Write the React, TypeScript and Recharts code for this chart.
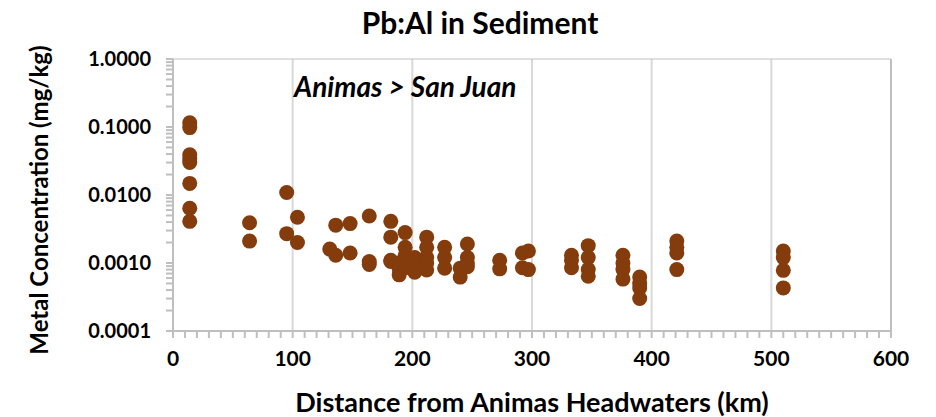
import React from "react";
import {
  ScatterChart,
  Scatter,
  XAxis,
  YAxis,
  ReferenceLine,
} from "recharts";

// sample distances (km) and matching Pb:Al ratios
const distanceKm = [
  14, 14, 14, 14, 14, 14, 14, 14,
  64, 64,
  95, 95,
  104, 104,
  131,
  136, 136,
  148, 148,
  164, 164, 164,
  182, 182, 182, 182,
  189, 189, 189,
  194, 194, 194, 194,
  202, 202, 202,
  212, 212, 212, 212, 212,
  227, 227, 227,
  240, 240,
  246, 246, 246, 246,
  273, 273,
  292, 292,
  297, 297,
  333, 333, 333,
  347, 347, 347, 347,
  376, 376, 376, 376,
  390, 390, 390, 390,
  421, 421, 421, 421,
  510, 510, 510, 510,
];

const pbAlRatio = [
  0.115, 0.098, 0.039, 0.034, 0.030, 0.0148, 0.0064, 0.0041,
  0.0039, 0.0021,
  0.0109, 0.0027,
  0.0047, 0.002,
  0.0016,
  0.0036, 0.0013,
  0.0038, 0.0014,
  0.0049, 0.00095, 0.00105,
  0.0041, 0.0024, 0.0011, 0.00105,
  0.00067, 0.00082, 0.001,
  0.0028, 0.0017, 0.0013, 0.00085,
  0.0012, 0.00073, 0.00095,
  0.0024, 0.0017, 0.0012, 0.001, 0.00079,
  0.0017, 0.0012, 0.00084,
  0.00062, 0.00084,
  0.0019, 0.0012, 0.001, 0.00088,
  0.0011, 0.00082,
  0.0014, 0.00085,
  0.0015, 0.0008,
  0.0013, 0.00085, 0.0011,
  0.0018, 0.0012, 0.0008, 0.00064,
  0.0013, 0.001, 0.00058, 0.0008,
  0.00062, 0.00043, 0.0003, 0.0005,
  0.0021, 0.0017, 0.0014, 0.0008,
  0.0015, 0.0012, 0.00078, 0.00043,
];

const xMajorTicks = [0, 100, 200, 300, 400, 500, 600];
const yMajorTicks = [0.0001, 0.001, 0.01, 0.1, 1];
const gridX = [100, 200, 300, 400, 500];

const data = distanceKm.map((d, i) => ({ km: d, ratio: pbAlRatio[i] }));

// minor ticks: every 10 km on x, 1..9 per decade on y
const xTicks: number[] = [];
for (let v = 0; v <= 600; v += 10) xTicks.push(v);
const yTicks: number[] = [];
yMajorTicks.slice(0, -1).forEach((d) => {
  for (let m = 1; m < 10; m++) yTicks.push(+(d * m).toPrecision(3));
});
yTicks.push(1);

const FONT = "Lato, 'Open Sans', sans-serif";
const BROWN = "#843C0C";
const AXIS = "#bfbfbf";

const XTick = (props: any) => {
  const { x, y, payload } = props;
  const major = xMajorTicks.includes(payload.value);
  return (
    <g>
      <line x1={x} x2={x} y1={y} y2={y + 7} stroke={AXIS} strokeWidth={2} />
      {major && (
        <text
          x={x}
          y={y + 35}
          textAnchor="middle"
          fontFamily={FONT}
          fontWeight={700}
          fontSize={21}
          fill="#000"
        >
          {payload.value}
        </text>
      )}
    </g>
  );
};

const YTick = (props: any) => {
  const { x, y, payload } = props;
  const major = yMajorTicks.some((t) => Math.abs(t - payload.value) < 1e-9);
  return (
    <g>
      <line x1={x - 7} x2={x} y1={y} y2={y} stroke={AXIS} strokeWidth={2} />
      {major && (
        <text
          x={x - 22}
          y={y + 7}
          textAnchor="end"
          fontFamily={FONT}
          fontWeight={700}
          fontSize={20}
          fill="#000"
        >
          {payload.value.toFixed(4)}
        </text>
      )}
    </g>
  );
};

const Dot = (props: any) => (
  <circle cx={props.cx} cy={props.cy} r={7.5} fill={BROWN} />
);

export default function App() {
  return (
    <div
      style={{
        position: "absolute",
        left: 0,
        top: 0,
        width: 936,
        height: 417,
        background: "#fff",
        fontFamily: FONT,
      }}
    >
      <ScatterChart
        width={936}
        height={417}
        margin={{ top: 59, right: 45, bottom: 46, left: 103 }}
      >
        {gridX.map((v) => (
          <ReferenceLine key={v} x={v} stroke="#d9d9d9" strokeWidth={2} />
        ))}
        <ReferenceLine y={1} stroke={AXIS} strokeWidth={1} />
        <ReferenceLine x={600} stroke={AXIS} strokeWidth={2} />
        <XAxis
          type="number"
          dataKey="km"
          domain={[0, 600]}
          ticks={xTicks}
          interval={0}
          height={40}
          tickSize={0}
          tickMargin={0}
          tickLine={false}
          axisLine={{ stroke: AXIS, strokeWidth: 2 }}
          tick={<XTick />}
        />
        <YAxis
          type="number"
          dataKey="ratio"
          scale="log"
          domain={[0.0001, 1]}
          allowDataOverflow
          ticks={yTicks}
          interval={0}
          width={70}
          tickSize={0}
          tickMargin={0}
          tickLine={false}
          axisLine={{ stroke: AXIS, strokeWidth: 2 }}
          tick={<YTick />}
        />
        <Scatter data={data} shape={<Dot />} isAnimationActive={false} />
      </ScatterChart>

      <div
        style={{
          position: "absolute",
          left: 0,
          width: 936,
          top: 4,
          textAlign: "center",
          fontSize: 30,
          fontWeight: 700,
          color: "#000",
          paddingLeft: 24,
          boxSizing: "border-box",
        }}
      >
        Pb:Al in Sediment
      </div>
      <div
        style={{
          position: "absolute",
          left: 294,
          top: 69,
          fontSize: 28,
          fontWeight: 700,
          fontStyle: "italic",
          color: "#000",
        }}
      >
        Animas &gt; San Juan
      </div>
      <div
        style={{
          position: "absolute",
          left: 173,
          width: 718,
          top: 385,
          textAlign: "center",
          fontSize: 27,
          fontWeight: 700,
          color: "#000",
        }}
      >
        Distance from Animas Headwaters (km)
      </div>
      <div
        style={{
          position: "absolute",
          left: 38,
          top: 200,
          transform: "translate(-50%, -50%) rotate(-90deg)",
          whiteSpace: "nowrap",
          fontSize: 24,
          fontWeight: 700,
          color: "#000",
        }}
      >
        Metal Concentration (mg/kg)
      </div>
    </div>
  );
}
